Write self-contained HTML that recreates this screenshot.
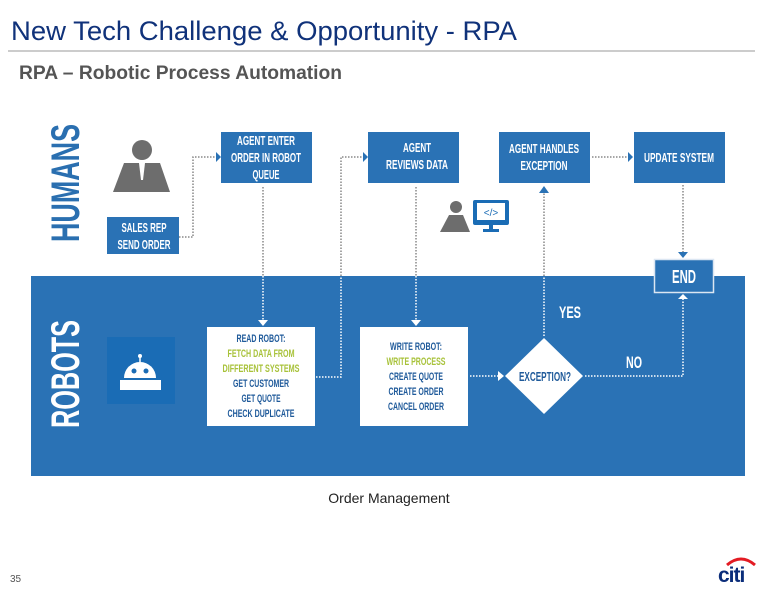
<!DOCTYPE html>
<html><head><meta charset="utf-8"><style>
html,body{margin:0;padding:0;background:#fff;width:776px;height:595px;overflow:hidden}
svg{display:block}
.c{font-family:"Liberation Sans Narrow","Liberation Sans",sans-serif;font-weight:bold}
</style></head><body>
<svg width="776" height="595" viewBox="0 0 776 595" xmlns="http://www.w3.org/2000/svg">
<text x="11" y="40" font-family="Liberation Sans, sans-serif" font-size="27" fill="#10327a" textLength="506" lengthAdjust="spacingAndGlyphs">New Tech Challenge &amp; Opportunity - RPA</text>
<line x1="8" y1="51" x2="755" y2="51" stroke="#999" stroke-width="1"/>
<text x="19" y="79" font-family="Liberation Sans, sans-serif" font-weight="bold" font-size="19" fill="#555" textLength="323" lengthAdjust="spacingAndGlyphs">RPA – Robotic Process Automation</text>

<rect x="31" y="276" width="714" height="200" fill="#2a72b5"/>

<text class="c" transform="translate(79,242) rotate(-90)" font-size="40" fill="#2a6fb0" textLength="118" lengthAdjust="spacingAndGlyphs">HUMANS</text>
<text class="c" transform="translate(79,428) rotate(-90)" font-size="40" fill="#fff" textLength="108" lengthAdjust="spacingAndGlyphs">ROBOTS</text>

<circle cx="142" cy="150" r="10" fill="#6d6d6d"/>
<path d="M124,163 L160,163 L170,192 L113,192 Z" fill="#6d6d6d"/>
<path d="M139,163 L145,163 L143,180 L141,180 Z" fill="#fff"/>

<rect x="107" y="337" width="68" height="67" fill="#1a6cb5"/>
<circle cx="140" cy="356" r="2" fill="#fff"/>
<line x1="140" y1="356" x2="140" y2="362" stroke="#fff" stroke-width="1.5"/>
<path d="M124,378 A16,16 0 0 1 156,378 Z" fill="#fff"/>
<circle cx="134" cy="371" r="2.5" fill="#1a6cb5"/><circle cx="146" cy="371" r="2.5" fill="#1a6cb5"/>
<rect x="120" y="380" width="41" height="10" fill="#fff"/>

<g fill="#2a72b5">
<rect x="107" y="217" width="72" height="37"/>
<rect x="221" y="132" width="91" height="51"/>
<rect x="368" y="132" width="91" height="51"/>
<rect x="499" y="132" width="91" height="51"/>
<rect x="634" y="132" width="91" height="51"/>
</g>
<rect x="654.5" y="259.5" width="59" height="33" fill="#2a72b5" stroke="#dbe6f2" stroke-width="1.5"/>
<g class="c" fill="#fff" text-anchor="middle" lengthAdjust="spacingAndGlyphs">
<text x="144" y="232" font-size="13" textLength="45" lengthAdjust="spacingAndGlyphs">SALES REP</text>
<text x="144" y="249" font-size="13" textLength="53" lengthAdjust="spacingAndGlyphs">SEND ORDER</text>
<text x="266" y="145" font-size="13" textLength="58" lengthAdjust="spacingAndGlyphs">AGENT ENTER</text>
<text x="266" y="162" font-size="13" textLength="70" lengthAdjust="spacingAndGlyphs">ORDER IN ROBOT</text>
<text x="266" y="179" font-size="13" textLength="27" lengthAdjust="spacingAndGlyphs">QUEUE</text>
<text x="417" y="152" font-size="13" textLength="28" lengthAdjust="spacingAndGlyphs">AGENT</text>
<text x="417" y="169" font-size="13" textLength="62" lengthAdjust="spacingAndGlyphs">REVIEWS DATA</text>
<text x="544" y="153" font-size="13" textLength="70" lengthAdjust="spacingAndGlyphs">AGENT HANDLES</text>
<text x="544" y="170" font-size="13" textLength="47" lengthAdjust="spacingAndGlyphs">EXCEPTION</text>
<text x="679" y="162" font-size="13" textLength="70" lengthAdjust="spacingAndGlyphs">UPDATE SYSTEM</text>
<text x="684" y="283" font-size="18" textLength="24" lengthAdjust="spacingAndGlyphs">END</text>
<text x="570" y="318" font-size="17" textLength="22" lengthAdjust="spacingAndGlyphs">YES</text>
<text x="634" y="368" font-size="17" textLength="16" lengthAdjust="spacingAndGlyphs">NO</text>
</g>

<rect x="207" y="327" width="108" height="99" fill="#fff"/>
<rect x="360" y="327" width="108" height="99" fill="#fff"/>
<g class="c" font-size="11" text-anchor="middle" fill="#1f5a9a">
<text x="261" y="342" textLength="49" lengthAdjust="spacingAndGlyphs">READ ROBOT:</text>
<text x="261" y="357" fill="#a8c23a" textLength="67" lengthAdjust="spacingAndGlyphs">FETCH DATA FROM</text>
<text x="261" y="372" fill="#a8c23a" textLength="77" lengthAdjust="spacingAndGlyphs">DIFFERENT SYSTEMS</text>
<text x="261" y="387" textLength="56" lengthAdjust="spacingAndGlyphs">GET CUSTOMER</text>
<text x="261" y="402" textLength="39" lengthAdjust="spacingAndGlyphs">GET QUOTE</text>
<text x="261" y="417" textLength="67" lengthAdjust="spacingAndGlyphs">CHECK DUPLICATE</text>
<text x="416" y="350" textLength="52" lengthAdjust="spacingAndGlyphs">WRITE ROBOT:</text>
<text x="416" y="365" fill="#a8c23a" textLength="59" lengthAdjust="spacingAndGlyphs">WRITE PROCESS</text>
<text x="416" y="380" textLength="54" lengthAdjust="spacingAndGlyphs">CREATE QUOTE</text>
<text x="416" y="395" textLength="55" lengthAdjust="spacingAndGlyphs">CREATE ORDER</text>
<text x="416" y="410" textLength="56" lengthAdjust="spacingAndGlyphs">CANCEL ORDER</text>
</g>

<path d="M544,338 L583,376 L544,414 L505,376 Z" fill="#fff"/>
<text class="c" x="545" y="381" font-size="13" fill="#1f5a9a" text-anchor="middle" textLength="52" lengthAdjust="spacingAndGlyphs">EXCEPTION?</text>

<circle cx="456" cy="207" r="6" fill="#6d6d6d"/>
<path d="M449,215 L463,215 L470,232 L440,232 Z" fill="#6d6d6d"/>
<rect x="473" y="200" width="36" height="25" rx="2" fill="#1a6cb5"/>
<rect x="477" y="203" width="28" height="17" fill="#fff"/>
<text x="491" y="216" font-family="Liberation Sans, sans-serif" font-size="10" fill="#1a6cb5" text-anchor="middle">&lt;/&gt;</text>
<rect x="489" y="225" width="4" height="4" fill="#1a6cb5"/><rect x="483" y="229" width="16" height="3" fill="#1a6cb5"/>

<g fill="none" stroke-dasharray="1.5,1.5" stroke-width="1.5">
<path d="M179,237 H193 V157 H216" stroke="#888"/>
<path d="M263,187 V276" stroke="#888"/><path d="M263,276 V320" stroke="#fff"/>
<path d="M316,377 H341 V276" stroke="#fff"/><path d="M341,276 V157 H363" stroke="#888"/>
<path d="M416,187 V276" stroke="#888"/><path d="M416,276 V320" stroke="#fff"/>
<path d="M470,376 H498" stroke="#fff"/>
<path d="M544,336 V276" stroke="#fff"/><path d="M544,276 V193" stroke="#888"/>
<path d="M585,376 H683 V299" stroke="#fff"/>
<path d="M592,157 H628" stroke="#888"/>
<path d="M683,185 V252" stroke="#888"/>
</g>
<g fill="#2a72b5">
<path d="M216,152 L221,157 L216,162 Z"/>
<path d="M363,152 L368,157 L363,162 Z"/>
<path d="M628,152 L633,157 L628,162 Z"/>
<path d="M539,193 L544,186 L549,193 Z"/>
<path d="M678,252 L683,258 L688,252 Z"/>
</g>
<g fill="#fff">
<path d="M258,320 L263,326 L268,320 Z"/>
<path d="M411,320 L416,326 L421,320 Z"/>
<path d="M498,371 L504,376 L498,381 Z"/>
<path d="M678,299 L683,294 L688,299 Z"/>
</g>

<text x="389" y="503" font-family="Liberation Sans, sans-serif" font-size="14" fill="#222" text-anchor="middle">Order Management</text>
<text x="10" y="582" font-family="Liberation Sans, sans-serif" font-size="10" fill="#555">35</text>
<path d="M727,565 Q741,553 755,565" fill="none" stroke="#e31b23" stroke-width="3"/>
<text x="718" y="582" font-family="Liberation Sans, sans-serif" font-weight="bold" font-size="21" fill="#0b2d7a" letter-spacing="-1">citi</text>
</svg>
</body></html>
